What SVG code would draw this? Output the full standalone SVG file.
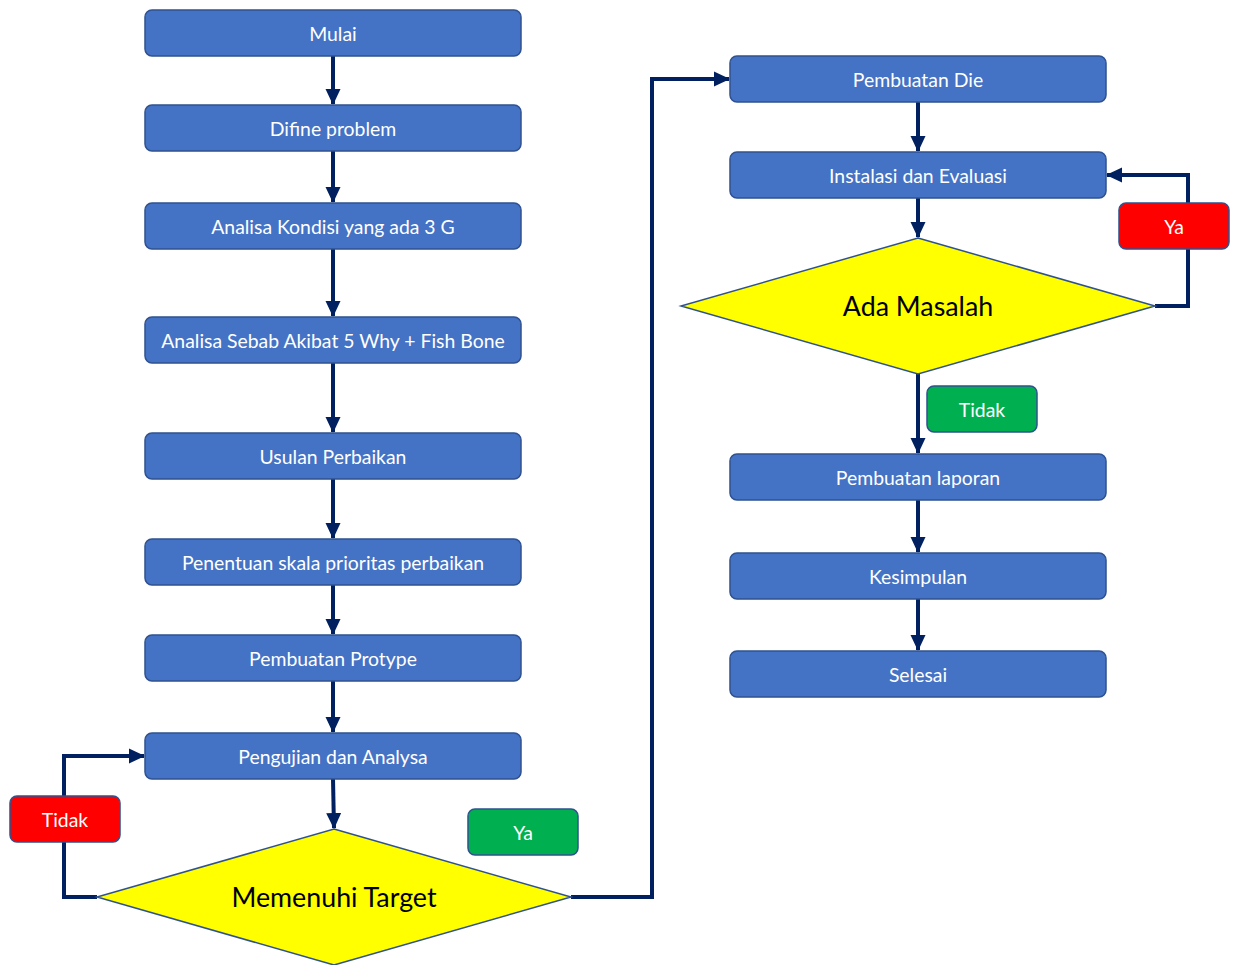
<svg xmlns="http://www.w3.org/2000/svg" width="1233" height="965" viewBox="0 0 1233 965">
<style>
.box{fill:#4472C4;stroke:#2F528F;stroke-width:1.5}
.dia{fill:#FFFF00;stroke:#2F528F;stroke-width:1.5}
.red{fill:#FF0000;stroke:#2F528F;stroke-width:1.5}
.green{fill:#00B050;stroke:#2F528F;stroke-width:1.5}
.t{font-family:Lato,"Liberation Sans",sans-serif;font-size:19.4px;fill:#FFFFFF;text-anchor:middle;dominant-baseline:central}
.dt{font-family:Lato,"Liberation Sans",sans-serif;font-size:26.8px;fill:#000000;text-anchor:middle;dominant-baseline:central}
.c{fill:none;stroke:#002060;stroke-width:4}
</style>
<defs>
<marker id="ah" markerUnits="userSpaceOnUse" markerWidth="17" markerHeight="17" viewBox="0 0 17 17" refX="15" refY="8.5" orient="auto">
<path d="M0,1 L16,8.5 L0,16 Z" fill="#002060"/>
</marker>
</defs>
<rect width="1233" height="965" fill="#FFFFFF"/>
<g id="connectors">
<path class="c" d="M333,56 V104" marker-end="url(#ah)"/>
<path class="c" d="M333,151 V202" marker-end="url(#ah)"/>
<path class="c" d="M333,249 V316" marker-end="url(#ah)"/>
<path class="c" d="M333,363 V432" marker-end="url(#ah)"/>
<path class="c" d="M333,479 V538" marker-end="url(#ah)"/>
<path class="c" d="M333,585 V634" marker-end="url(#ah)"/>
<path class="c" d="M333,681 V732" marker-end="url(#ah)"/>
<path class="c" d="M333,779 L334,828" marker-end="url(#ah)"/>
<path class="c" d="M97,897 H64 V756 H144" marker-end="url(#ah)"/>
<path class="c" d="M571,897 H652 V79 H729" marker-end="url(#ah)"/>
<path class="c" d="M918,102 V151" marker-end="url(#ah)"/>
<path class="c" d="M918,198 V237" marker-end="url(#ah)"/>
<path class="c" d="M1155,306 H1188 V175 H1107" marker-end="url(#ah)"/>
<path class="c" d="M918,374 V453" marker-end="url(#ah)"/>
<path class="c" d="M918,500 V552" marker-end="url(#ah)"/>
<path class="c" d="M918,599 V650" marker-end="url(#ah)"/>
</g>
<g id="n-mulai"><rect class="box" x="145" y="10" width="376" height="46" rx="7"/><text class="t" x="333" y="33">Mulai</text></g>
<g id="n-difine"><rect class="box" x="145" y="105" width="376" height="46" rx="7"/><text class="t" x="333" y="128">Difine problem</text></g>
<g id="n-kondisi"><rect class="box" x="145" y="203" width="376" height="46" rx="7"/><text class="t" x="333" y="226">Analisa Kondisi yang ada 3 G</text></g>
<g id="n-sebab"><rect class="box" x="145" y="317" width="376" height="46" rx="7"/><text class="t" x="333" y="340">Analisa Sebab Akibat 5 Why + Fish Bone</text></g>
<g id="n-usulan"><rect class="box" x="145" y="433" width="376" height="46" rx="7"/><text class="t" x="333" y="456">Usulan Perbaikan</text></g>
<g id="n-penentuan"><rect class="box" x="145" y="539" width="376" height="46" rx="7"/><text class="t" x="333" y="562">Penentuan skala prioritas perbaikan</text></g>
<g id="n-protype"><rect class="box" x="145" y="635" width="376" height="46" rx="7"/><text class="t" x="333" y="658">Pembuatan Protype</text></g>
<g id="n-pengujian"><rect class="box" x="145" y="733" width="376" height="46" rx="7"/><text class="t" x="333" y="756">Pengujian dan Analysa</text></g>
<g id="n-target"><polygon class="dia" points="334,829 571,897 334,965 97,897"/><text class="dt" x="334" y="897">Memenuhi Target</text></g>
<g id="n-tidak1"><rect class="red" x="10" y="796" width="110" height="46" rx="7"/><text class="t" x="65" y="819">Tidak</text></g>
<g id="n-ya1"><rect class="green" x="468" y="809" width="110" height="46" rx="7"/><text class="t" x="523" y="832">Ya</text></g>
<g id="n-die"><rect class="box" x="730" y="56" width="376" height="46" rx="7"/><text class="t" x="918" y="79">Pembuatan Die</text></g>
<g id="n-instalasi"><rect class="box" x="730" y="152" width="376" height="46" rx="7"/><text class="t" x="918" y="175">Instalasi dan Evaluasi</text></g>
<g id="n-masalah"><polygon class="dia" points="918,238 1155,306 918,374 681,306"/><text class="dt" x="918" y="306">Ada Masalah</text></g>
<g id="n-ya2"><rect class="red" x="1119" y="203" width="110" height="46" rx="7"/><text class="t" x="1174" y="226">Ya</text></g>
<g id="n-tidak2"><rect class="green" x="927" y="386" width="110" height="46" rx="7"/><text class="t" x="982" y="409">Tidak</text></g>
<g id="n-laporan"><rect class="box" x="730" y="454" width="376" height="46" rx="7"/><text class="t" x="918" y="477">Pembuatan laporan</text></g>
<g id="n-kesimpulan"><rect class="box" x="730" y="553" width="376" height="46" rx="7"/><text class="t" x="918" y="576">Kesimpulan</text></g>
<g id="n-selesai"><rect class="box" x="730" y="651" width="376" height="46" rx="7"/><text class="t" x="918" y="674">Selesai</text></g>
</svg>
